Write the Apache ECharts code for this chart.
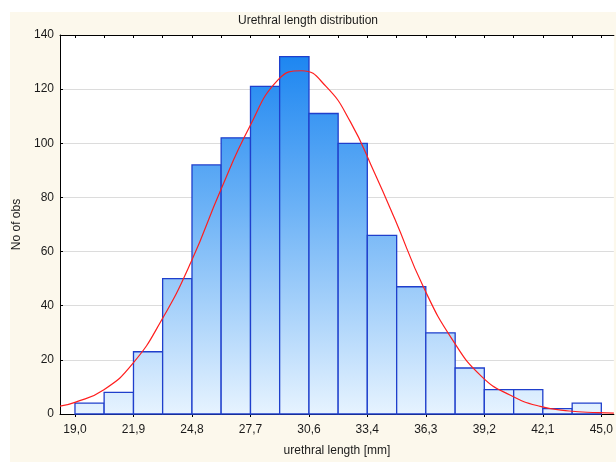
<!DOCTYPE html>
<html>
<head>
<meta charset="utf-8">
<script src="https://cdn.jsdelivr.net/npm/echarts@6/dist/echarts.min.js"></script>
<style>
  html, body { margin: 0; padding: 0; background: #fff; }
  #main { width: 616px; height: 462px; }
</style>
</head>
<body>
<div id="main"></div>
<script>
// bin edges of the histogram [mm]
var binEdges = [19.0, 20.44, 21.89, 23.33, 24.78, 26.22, 27.67, 29.11, 30.56, 32.0,
  33.44, 34.89, 36.33, 37.78, 39.22, 40.67, 42.11, 43.56, 45.0]
// number of observations per bin
var counts = [4, 8, 23, 50, 92, 102, 121, 132, 111, 100, 66, 47, 30, 17, 9, 9, 2, 4]
// x-axis tick labels
var tickValues = [19.0, 21.89, 24.78, 27.67, 30.56, 33.44, 36.33, 39.22, 42.11, 45.0]
// fitted normal curve
var curveX = [18.26, 19.0, 20.43, 21.85, 23.28, 24.76, 26.19, 27.62, 29.04, 30.2,
  31.4, 32.6, 33.8, 34.8, 36.22, 37.65, 39.08, 40.51, 41.98, 43.41, 44.84, 45.62]
var curveY = [2.9, 4.3, 9.0, 18.6, 34.7, 56.6, 82.6, 106, 123.5, 126.8,
  121, 108, 89, 72, 46.8, 27.4, 13.9, 6.9, 2.8, 1.1, 0.5, 0.3]

var bars = []
for (var i = 0; i < counts.length; i++) {
  bars.push([binEdges[i], binEdges[i + 1], counts[i]])
}
var curve = curveX.map(function (x, i) { return [x, curveY[i]] })

var myChart = echarts.init(document.getElementById('main'))
var fmt = function (v) { return v.toFixed(1).replace('.', ',') }
var barFill = new echarts.graphic.LinearGradient(0, 35, 0, 420, [
  { offset: 0, color: '#1280f0' },
  { offset: 0.45, color: '#6cb2f6' },
  { offset: 1, color: '#eaf5ff' }
], true)

var option = {
  backgroundColor: '#fff',
  animation: false,
  textStyle: { fontFamily: 'Liberation Sans, Arial, sans-serif' },
  graphic: [{
    type: 'rect', z: -10, silent: true,
    shape: { x: 10, y: 12, width: 606, height: 450 },
    style: { fill: '#fcf8ec' }
  }],
  title: {
    text: 'Urethral length distribution',
    left: 'center',
    top: 10,
    textStyle: { fontSize: 12, fontWeight: 'normal', color: '#1a1a1a' }
  },
  grid: {
    left: 60, right: 0, top: 35, bottom: 42,
    show: true, backgroundColor: '#fff', borderWidth: 0
  },
  xAxis: [
    {
      type: 'value',
      min: 18.26,
      max: 45.62,
      name: 'urethral length [mm]',
      nameLocation: 'middle',
      nameGap: 31,
      nameTextStyle: { fontSize: 12, color: '#1a1a1a' },
      axisLine: { lineStyle: { color: '#000', width: 1 } },
      axisTick: { show: true, customValues: tickValues, length: 3, lineStyle: { color: '#000' } },
      axisLabel: {
        customValues: tickValues,
        formatter: fmt,
        fontSize: 12,
        color: '#1a1a1a',
        margin: 10
      },
      splitLine: { show: false }
    },
    {
      type: 'value',
      position: 'top',
      min: 18.26,
      max: 45.62,
      axisLine: { show: true, lineStyle: { color: '#000', width: 1 } },
      axisTick: { show: true, inside: true, customValues: binEdges, length: 3, lineStyle: { color: '#000' } },
      axisLabel: { show: false },
      splitLine: { show: false }
    }
  ],
  yAxis: {
    type: 'value',
    min: 0,
    max: 140,
    interval: 20,
    name: 'No of obs',
    nameLocation: 'middle',
    nameGap: 37,
    nameTextStyle: { fontSize: 12, color: '#1a1a1a' },
    axisLine: { show: true, lineStyle: { color: '#000', width: 1 } },
    axisTick: { show: true, inside: true, length: 3, lineStyle: { color: '#000' } },
    axisLabel: { fontSize: 12, color: '#1a1a1a', margin: 6 },
    splitLine: { lineStyle: { color: '#dcdcdc', width: 1 } }
  },
  series: [
    {
      type: 'custom',
      xAxisIndex: 0,
      encode: { x: [0, 1], y: 2 },
      data: bars,
      renderItem: function (params, api) {
        var p0 = api.coord([api.value(0), api.value(2)])
        var p1 = api.coord([api.value(1), 0])
        return {
          type: 'rect',
          shape: { x: p0[0], y: p0[1], width: p1[0] - p0[0], height: p1[1] - p0[1] },
          style: { fill: barFill, stroke: '#1f3fcc', lineWidth: 1.3 }
        }
      }
    },
    {
      type: 'line',
      xAxisIndex: 0,
      data: curve,
      smooth: 0.5,
      showSymbol: false,
      z: 5,
      lineStyle: { color: '#ff1e1e', width: 1.2 }
    }
  ]
}
myChart.setOption(option)
</script>
</body>
</html>
